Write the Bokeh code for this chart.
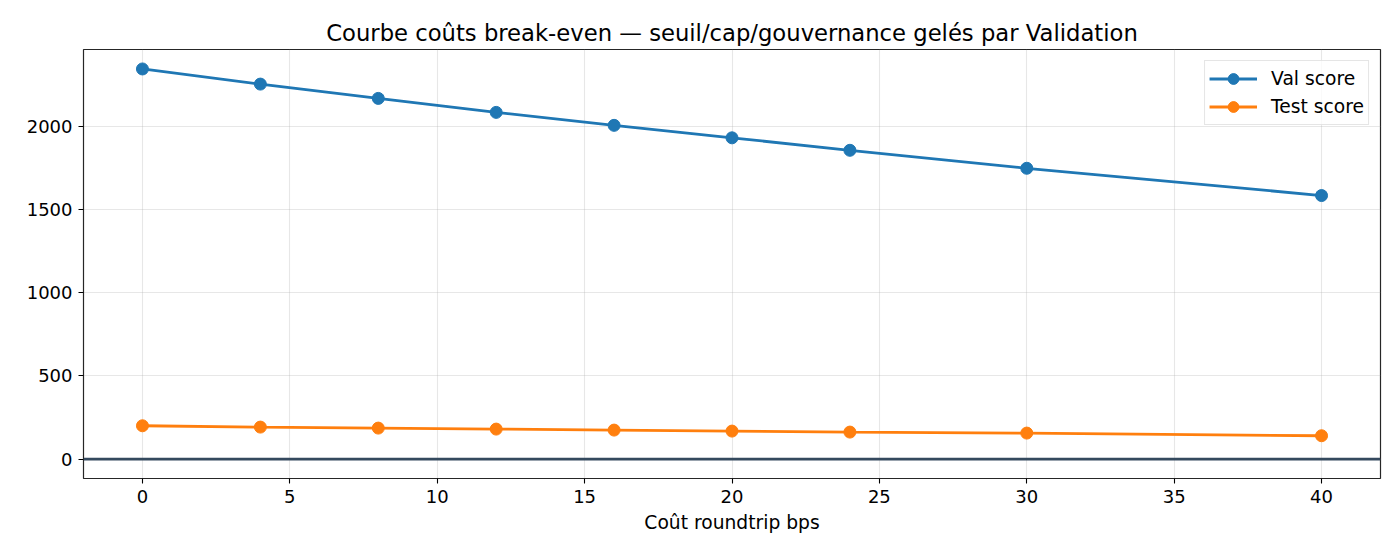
from bokeh.plotting import figure
from bokeh.models import Span, FixedTicker, Range1d, Legend, LegendItem
from bokeh.embed import file_html
from bokeh.resources import INLINE

costs = [0, 4, 8, 12, 16, 20, 24, 30, 40]
val_score = [2345, 2254, 2168, 2084, 2006, 1931, 1856, 1748, 1584]
test_score = [200, 192, 186, 180, 174, 168, 162, 156, 140]
x_ticks = [0, 5, 10, 15, 20, 25, 30, 35, 40]
y_ticks = [0, 500, 1000, 1500, 2000]

FONT = "DejaVu Sans"

p = figure(width=1392, height=552, output_backend="svg", toolbar_location=None,
           x_range=Range1d(-2, 42), y_range=Range1d(-117, 2462),
           min_border_left=83, min_border_right=12, min_border_top=49, min_border_bottom=74,
           title="Courbe coûts break-even — seuil/cap/gouvernance gelés par Validation")
p.title.text_font = FONT
p.title.text_font_size = "22.7px"
p.title.text_font_style = "normal"
p.title.align = "center"
p.title.text_color = "black"
p.title.standoff = 8

p.outline_line_color = "black"
p.outline_line_width = 1.2
p.outline_line_alpha = 0.85

for ax in (p.xaxis[0], p.yaxis[0]):
    ax.major_label_text_font = FONT
    ax.major_label_text_font_size = "18px"
    ax.major_label_text_color = "black"
    ax.axis_line_color = None
    ax.major_tick_line_color = "black"
    ax.major_tick_line_width = 1.1
    ax.major_tick_out = 5
    ax.major_tick_in = 0
    ax.minor_tick_line_color = None
p.xaxis[0].ticker = FixedTicker(ticks=x_ticks)
p.yaxis[0].ticker = FixedTicker(ticks=y_ticks)
p.xaxis[0].axis_label = "Coût roundtrip bps"
p.xaxis[0].axis_label_text_font = FONT
p.xaxis[0].axis_label_text_font_size = "18.7px"
p.xaxis[0].axis_label_text_font_style = "normal"
p.xaxis[0].axis_label_text_color = "black"
p.xaxis[0].axis_label_standoff = 6
p.xaxis[0].major_label_standoff = 6
p.yaxis[0].major_label_standoff = 6

p.xgrid.grid_line_color = "#b0b0b0"
p.xgrid.grid_line_alpha = 0.3
p.xgrid.grid_line_width = 1.1
p.ygrid.grid_line_color = "#b0b0b0"
p.ygrid.grid_line_alpha = 0.3
p.ygrid.grid_line_width = 1.1

p.add_layout(Span(location=0, dimension="width", line_color="#34495e", line_width=2.8))

l1 = p.line(costs, val_score, line_color="#1f77b4", line_width=2.8)
s1 = p.scatter(costs, val_score, size=12, fill_color="#1f77b4", line_color="#1f77b4")
l2 = p.line(costs, test_score, line_color="#ff7f0e", line_width=2.8)
s2 = p.scatter(costs, test_score, size=12, fill_color="#ff7f0e", line_color="#ff7f0e")

legend = Legend(items=[LegendItem(label="Val score", renderers=[l1, s1]),
                       LegendItem(label="Test score", renderers=[l2, s2])],
                location="top_right")
legend.label_text_font = FONT
legend.label_text_font_size = "18.7px"
legend.label_text_color = "black"
legend.border_line_color = "#cccccc"
legend.border_line_width = 1.2
legend.background_fill_alpha = 0.8
legend.glyph_width = 48
legend.glyph_height = 27
legend.label_height = 27
legend.label_standoff = 14
legend.spacing = 1
legend.padding = 4
legend.margin = 11
p.add_layout(legend)

open("out.html", "w").write(file_html(p, INLINE))
